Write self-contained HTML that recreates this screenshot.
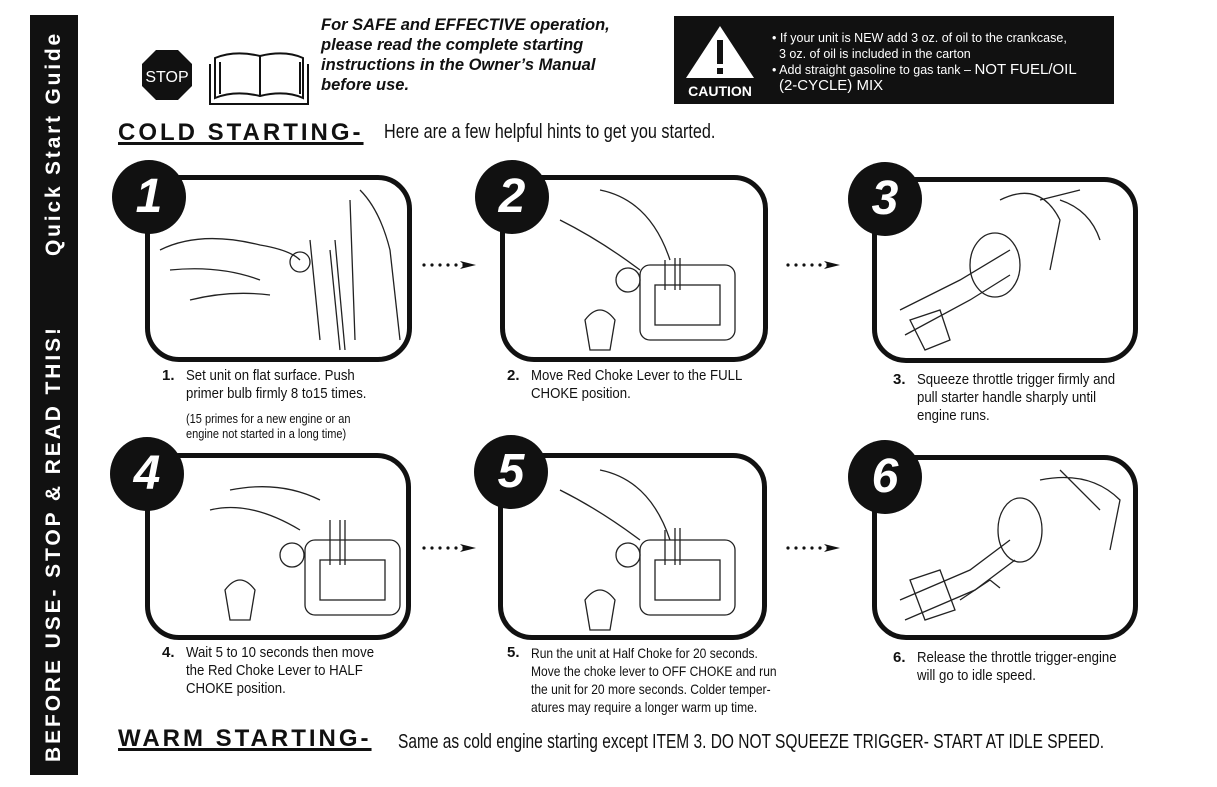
<!DOCTYPE html>
<html><head><meta charset="utf-8"><style>
*{margin:0;padding:0;box-sizing:border-box}
body{width:1217px;height:787px;background:#fff;position:relative;overflow:hidden;font-family:"Liberation Sans",sans-serif;color:#111}
.abs{position:absolute}
.bar{left:30px;top:15px;width:48px;height:760px;background:#111}
.vt{position:absolute;transform-origin:0 0;transform:rotate(-90deg);color:#fff;font-weight:bold;font-size:21px;line-height:28px;height:28px;white-space:nowrap}
.box{border:5px solid #111;border-radius:34px;background:#fff}
.circ{width:74px;height:74px;border-radius:50%;background:#111;color:#fff;font-weight:bold;font-style:italic;font-size:48px;text-align:center;line-height:74px}
.cap{font-size:15px;line-height:18px;white-space:nowrap}
.cap b{position:absolute;left:-24px;font-size:15px}
.sx{display:inline-block;transform-origin:0 0}
.hd{font-weight:900;font-size:24px;letter-spacing:3px;text-decoration:underline;text-decoration-thickness:3px;white-space:nowrap}
svg.ill{position:absolute}
</style></head><body>
<div class="abs bar"></div>
<div class="vt" style="left:40px;top:762px;letter-spacing:2.9px">BEFORE USE- STOP &amp; READ THIS!</div>
<div class="vt" style="left:40px;top:256px;letter-spacing:2.8px">Quick Start Guide</div>

<svg class="abs" style="left:140px;top:40px" width="170" height="70">
<polygon points="14,0 36,0 50,14 50,36 36,50 14,50 0,36 0,14" fill="#111" transform="translate(2,10)"/>
<text x="27" y="42" fill="#fff" font-family="Liberation Sans,sans-serif" font-size="16" text-anchor="middle">STOP</text>
<g fill="none" stroke="#111" stroke-width="2">
<path d="M75 18 Q95 10 120 16 Q145 10 163 18 L163 58 Q145 50 120 56 Q95 50 75 58Z"/>
<path d="M120 16 L120 56"/><path d="M70 24 L70 64 L168 64 L168 24"/><path d="M80 22 L80 54 M160 22 L160 54"/>
</g></svg>
<div class="abs" style="left:321px;top:15px;font-weight:900;font-style:italic;font-size:16.5px;line-height:20px;white-space:nowrap">For SAFE and EFFECTIVE operation,<br>please read the complete starting<br>instructions in the Owner’s Manual<br>before use.</div>

<div class="abs" style="left:674px;top:16px;width:440px;height:88px;background:#111"></div>
<svg class="abs" style="left:680px;top:20px" width="85" height="80">
<polygon points="40,6 74,58 6,58" fill="#fff"/>
<rect x="37" y="20" width="6" height="24" fill="#111"/><rect x="37" y="48" width="6" height="6" fill="#111"/>
<text x="40" y="76" fill="#fff" font-family="Liberation Sans,sans-serif" font-weight="bold" font-size="14" text-anchor="middle">CAUTION</text></svg>
<div class="abs" style="left:772px;top:30px;color:#fff;font-size:12.5px;line-height:16px;white-space:nowrap">• If your unit is NEW add 3 oz. of oil to the crankcase,<br>&nbsp;&nbsp;3 oz. of oil is included in the carton<br>• Add straight gasoline to gas tank – <span style="font-size:15px">NOT FUEL/OIL</span><br>&nbsp;&nbsp;<span style="font-size:15px">(2-CYCLE) MIX</span></div>

<div class="abs hd" style="left:118px;top:119px">COLD STARTING-</div>
<div class="abs" style="left:384px;top:121px;font-size:20px;white-space:nowrap"><span class="sx" style="transform:scaleX(0.81)">Here are a few helpful hints to get you started.</span></div>

<div class="abs box" style="left:145px;top:175px;width:267px;height:187px"></div>
<div class="abs box" style="left:500px;top:175px;width:268px;height:187px"></div>
<div class="abs box" style="left:872px;top:177px;width:266px;height:186px"></div>
<div class="abs box" style="left:145px;top:453px;width:266px;height:187px"></div>
<div class="abs box" style="left:498px;top:453px;width:269px;height:187px"></div>
<div class="abs box" style="left:872px;top:455px;width:266px;height:185px"></div>

<svg class="ill" style="left:0;top:0" width="1217" height="787" fill="none" stroke="#222" stroke-width="1.3">
<path d="M160 250 Q200 230 260 245 Q290 250 300 260 M170 270 Q220 265 260 280 M190 300 Q230 290 270 295"/>
<circle cx="300" cy="262" r="10"/><path d="M310 240 L320 340 M330 250 L340 350 M335 240 L345 350 M350 200 L355 340 M360 190 Q380 210 390 250 L400 340"/>
<path d="M560 220 Q600 240 640 270 M600 190 Q650 200 670 260"/><circle cx="628" cy="280" r="12"/>
<rect x="640" y="265" width="95" height="75" rx="10"/><rect x="655" y="285" width="65" height="40"/><path d="M665 260 L665 290 M675 258 L675 290 M680 258 L680 290"/>
<path d="M585 320 Q600 300 615 320 L610 350 L590 350Z"/>
<path d="M900 310 L960 280 L1010 250 M905 335 L970 300 L1010 275"/><ellipse cx="995" cy="265" rx="25" ry="32"/>
<path d="M1000 200 Q1040 180 1060 220 L1050 270 M1040 200 L1080 190 M1060 200 Q1090 210 1100 240"/><path d="M910 320 L940 310 L950 340 L925 350Z"/>
<path d="M210 510 Q250 500 300 530 M230 490 Q280 480 320 500"/><circle cx="292" cy="555" r="12"/>
<rect x="305" y="540" width="95" height="75" rx="10"/><rect x="320" y="560" width="65" height="40"/><path d="M330 520 L330 565 M340 520 L340 565 M345 520 L345 565"/>
<path d="M225 590 Q240 570 255 590 L250 620 L230 620Z"/>
<path d="M560 490 Q600 510 640 540 M600 470 Q650 480 670 540"/><circle cx="628" cy="555" r="12"/>
<rect x="640" y="540" width="95" height="75" rx="10"/><rect x="655" y="560" width="65" height="40"/><path d="M665 530 L665 565 M675 528 L675 565 M680 528 L680 565"/>
<path d="M585 600 Q600 580 615 600 L610 630 L590 630Z"/>
<path d="M900 600 L970 570 L1010 540 M905 620 L975 590 L1015 560"/><ellipse cx="1020" cy="530" rx="22" ry="32"/>
<path d="M1040 480 Q1090 470 1120 500 L1110 550 M1060 470 L1100 510"/><path d="M910 580 L940 570 L955 610 L925 620Z"/><path d="M960 600 L990 580 M990 580 L1000 588"/>
<g fill="#111" stroke="none">
<g id="ar"><circle cx="424" cy="265" r="1.6"/><circle cx="432" cy="265" r="1.6"/><circle cx="440" cy="265" r="1.6"/><circle cx="448" cy="265" r="1.6"/><circle cx="456" cy="265" r="1.6"/><circle cx="464" cy="265" r="1.6"/><polygon points="460,261 476,265 460,269 464,265"/></g>
<use href="#ar" x="364"/><use href="#ar" y="283"/><use href="#ar" x="364" y="283"/>
</g>
</svg>

<div class="abs circ" style="left:112px;top:160px">1</div>
<div class="abs circ" style="left:475px;top:160px">2</div>
<div class="abs circ" style="left:848px;top:162px">3</div>
<div class="abs circ" style="left:110px;top:437px">4</div>
<div class="abs circ" style="left:474px;top:435px">5</div>
<div class="abs circ" style="left:848px;top:440px">6</div>

<div class="abs cap" style="left:186px;top:367px"><b>1.</b><span class="sx" style="transform:scaleX(0.88)">Set unit on flat surface. Push<br>primer bulb firmly 8 to15 times.</span></div>
<div class="abs cap" style="left:186px;top:412px;font-size:12.5px;line-height:15px"><span class="sx" style="transform:scaleX(0.88)">(15 primes for a new engine or an<br>engine not started in a long time)</span></div>
<div class="abs cap" style="left:531px;top:367px"><b>2.</b><span class="sx" style="transform:scaleX(0.88)">Move Red Choke Lever to the FULL<br>CHOKE position.</span></div>
<div class="abs cap" style="left:917px;top:371px"><b>3.</b><span class="sx" style="transform:scaleX(0.88)">Squeeze throttle trigger firmly and<br>pull starter handle sharply until<br>engine runs.</span></div>
<div class="abs cap" style="left:186px;top:644px"><b>4.</b><span class="sx" style="transform:scaleX(0.88)">Wait 5 to 10 seconds then move<br>the Red Choke Lever to HALF<br>CHOKE position.</span></div>
<div class="abs cap" style="left:531px;top:644px;font-size:14px"><b>5.</b><span class="sx" style="transform:scaleX(0.86)">Run the unit at Half Choke for 20 seconds.<br>Move the choke lever to OFF CHOKE and run<br>the unit for 20 more seconds. Colder temper-<br>atures may require a longer warm up time.</span></div>
<div class="abs cap" style="left:917px;top:649px"><b>6.</b><span class="sx" style="transform:scaleX(0.88)">Release the throttle trigger-engine<br>will go to idle speed.</span></div>

<div class="abs hd" style="left:118px;top:725px">WARM STARTING-</div>
<div class="abs" style="left:398px;top:731px;font-size:20px;white-space:nowrap"><span class="sx" style="transform:scaleX(0.775)">Same as cold engine starting except ITEM 3. DO NOT SQUEEZE TRIGGER- START AT IDLE SPEED.</span></div>
</body></html>
